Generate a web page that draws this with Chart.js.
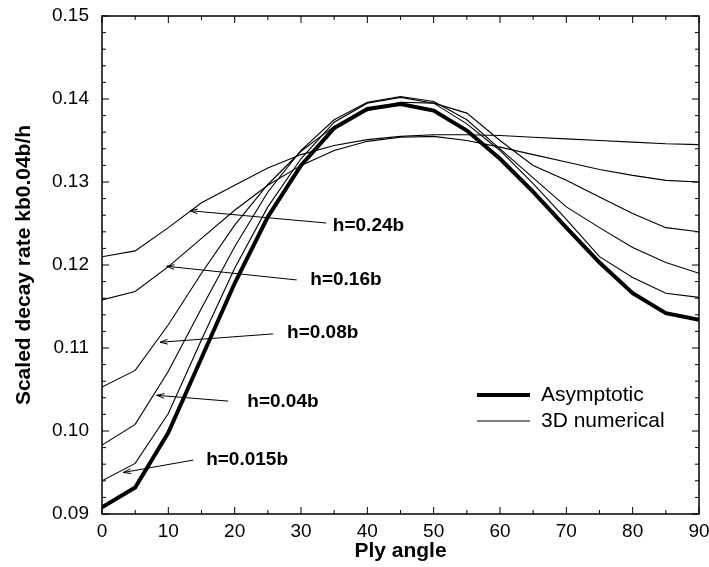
<!DOCTYPE html>
<html lang="en">
<head>
  <meta charset="UTF-8">
  <title>Scaled decay rate vs ply angle</title>
  <script src="https://cdn.jsdelivr.net/npm/chart.js"></script>
  <style>
    html, body { margin: 0; padding: 0; background: #fff; }
    #wrap { width: 709px; height: 567px; }
  </style>
</head>
<body>
<div id="wrap"><canvas id="chart" width="709" height="567"></canvas></div>
<script>
// ply angles (deg)
const angles = [0, 5, 10, 15, 20, 25, 30, 35, 40, 45, 50, 55, 60, 65, 70, 75, 80, 85, 90];

// asymptotic solution (thick line)
const asymptotic = [0.0908, 0.0932, 0.0998, 0.1088, 0.1178, 0.1258, 0.1320, 0.1365, 0.1388, 0.1394,
                    0.1386, 0.1362, 0.1328, 0.1288, 0.1245, 0.1203, 0.1166, 0.1142, 0.1134];

// 3D numerical results for different thicknesses
const h015 = [0.0940, 0.0961, 0.1021, 0.1110, 0.1196, 0.1270, 0.1328, 0.1372, 0.1395, 0.1402,
              0.1395, 0.1370, 0.1338, 0.1298, 0.1255, 0.1210, 0.1185, 0.1166, 0.1161];
const h04 = [0.0983, 0.1008, 0.1072, 0.1148, 0.1222, 0.1288, 0.1338, 0.1375, 0.1396, 0.1403,
             0.1397, 0.1375, 0.1340, 0.1305, 0.1270, 0.1245, 0.1221, 0.1203, 0.1190];
const h08 = [0.1053, 0.1073, 0.1128, 0.1190, 0.1248, 0.1297, 0.1337, 0.1367, 0.1386, 0.1396,
             0.1395, 0.1383, 0.1350, 0.1320, 0.1302, 0.1282, 0.1262, 0.1245, 0.1240];
const h16 = [0.1158, 0.1168, 0.1198, 0.1232, 0.1266, 0.1296, 0.1320, 0.1338, 0.1349, 0.1354,
             0.1355, 0.1350, 0.1342, 0.1333, 0.1324, 0.1315, 0.1308, 0.1302, 0.1300];
const h24 = [0.1210, 0.1217, 0.1245, 0.1275, 0.1296, 0.1317, 0.1333, 0.1344, 0.1351, 0.1355,
             0.1357, 0.1357, 0.1356, 0.1354, 0.1352, 0.1350, 0.1348, 0.1346, 0.1345];

// curve labels: text position and arrow tail -> tip (data units)
const noteText  = ["h=0.24b", "h=0.16b", "h=0.08b", "h=0.04b", "h=0.015b"];
const noteTextX = [34.8, 31.4, 27.9, 21.9, 15.7];
const noteTextY = [0.1247, 0.1182, 0.1118, 0.1035, 0.0965];
const tailX = [33.8, 29.35, 25.8, 19.0, 13.76];
const tailY = [0.12506, 0.1182, 0.1117, 0.1036, 0.0965];
const tipX  = [13.27, 9.76, 8.75, 8.25, 3.2];
const tipY  = [0.12654, 0.11985, 0.11069, 0.1043, 0.0950];

const legendLabels = ["Asymptotic", "3D numerical"];

function pts(ys) { return angles.map((a, i) => ({ x: a, y: ys[i] })); }

function thin(ys) {
  return { data: pts(ys), borderColor: "#000", borderWidth: 1.1, pointRadius: 0, tension: 0, fill: false };
}

const extras = {
  id: "extras",
  afterDatasetsDraw(chart) {
    const { ctx, chartArea: a, scales: { x, y } } = chart;
    ctx.save();
    ctx.strokeStyle = "#000";
    ctx.fillStyle = "#000";

    // frame
    ctx.lineWidth = 1.5;
    ctx.strokeRect(a.left, a.top, a.right - a.left, a.bottom - a.top);

    // inward ticks on all four sides
    ctx.lineWidth = 1;
    ctx.beginPath();
    for (let i = 0; i <= 18; i++) {
      const px = x.getPixelForValue(i * 5);
      const len = i % 2 === 0 ? 7 : 4;
      ctx.moveTo(px, a.bottom); ctx.lineTo(px, a.bottom - len);
      ctx.moveTo(px, a.top); ctx.lineTo(px, a.top + len);
    }
    for (let i = 0; i <= 30; i++) {
      const py = y.getPixelForValue(0.09 + i * 0.002);
      const len = i % 5 === 0 ? 7 : 4;
      ctx.moveTo(a.left, py); ctx.lineTo(a.left + len, py);
      ctx.moveTo(a.right, py); ctx.lineTo(a.right - len, py);
    }
    ctx.stroke();

    // arrows
    ctx.lineWidth = 1;
    for (let i = 0; i < noteText.length; i++) {
      const x0 = x.getPixelForValue(tailX[i]), y0 = y.getPixelForValue(tailY[i]);
      const x1 = x.getPixelForValue(tipX[i]), y1 = y.getPixelForValue(tipY[i]);
      const ang = Math.atan2(y1 - y0, x1 - x0);
      ctx.beginPath();
      ctx.moveTo(x0, y0); ctx.lineTo(x1, y1);
      ctx.moveTo(x1 - 8 * Math.cos(ang - 0.3), y1 - 8 * Math.sin(ang - 0.3));
      ctx.lineTo(x1, y1);
      ctx.lineTo(x1 - 8 * Math.cos(ang + 0.3), y1 - 8 * Math.sin(ang + 0.3));
      ctx.stroke();
    }

    // curve labels
    ctx.font = "bold 19px 'Liberation Sans', Arial, sans-serif";
    ctx.textAlign = "left";
    ctx.textBaseline = "middle";
    noteText.forEach((t, i) => {
      ctx.fillText(t, x.getPixelForValue(noteTextX[i]), y.getPixelForValue(noteTextY[i]));
    });

    // legend
    const lx0 = a.right - 222, lx1 = a.right - 169;
    const ly = [a.bottom - 119, a.bottom - 93];
    ctx.lineWidth = 4;
    ctx.beginPath(); ctx.moveTo(lx0, ly[0]); ctx.lineTo(lx1, ly[0]); ctx.stroke();
    ctx.lineWidth = 1;
    ctx.beginPath(); ctx.moveTo(lx0, ly[1]); ctx.lineTo(lx1, ly[1]); ctx.stroke();
    ctx.font = "21px 'Liberation Sans', Arial, sans-serif";
    legendLabels.forEach((t, i) => ctx.fillText(t, a.right - 158, ly[i]));

    ctx.restore();
  }
};

new Chart(document.getElementById("chart"), {
  type: "line",
  data: {
    datasets: [
      { data: pts(asymptotic), borderColor: "#000", borderWidth: 4, pointRadius: 0, tension: 0, fill: false },
      thin(h015), thin(h04), thin(h08), thin(h16), thin(h24)
    ]
  },
  options: {
    responsive: false,
    animation: false,
    layout: { padding: { top: 16, right: 10, left: 0, bottom: 0 } },
    plugins: { legend: { display: false }, tooltip: { enabled: false } },
    scales: {
      x: {
        type: "linear", min: 0, max: 90,
        grid: { display: false, drawTicks: false },
        border: { display: false },
        ticks: { stepSize: 10, padding: 6, color: "#000", font: { size: 19, family: "'Liberation Sans', Arial, sans-serif" }, maxRotation: 0 },
        title: { display: true, text: "Ply angle", color: "#000", padding: { top: 4, bottom: 3 },
                 font: { size: 21, weight: "bold", family: "'Liberation Sans', Arial, sans-serif" } },
        afterFit(s) { s.height = 53; s.paddingLeft = 0; s.paddingRight = 0; }
      },
      y: {
        min: 0.09, max: 0.15,
        grid: { display: false, drawTicks: false },
        border: { display: false },
        ticks: { stepSize: 0.01, padding: 13, color: "#000", callback: v => v.toFixed(2),
                 font: { size: 19, family: "'Liberation Sans', Arial, sans-serif" } },
        title: { display: true, text: "Scaled decay rate kb0.04b/h", color: "#000", padding: { top: 12, bottom: 0 },
                 font: { size: 21, weight: "bold", family: "'Liberation Sans', Arial, sans-serif" } },
        afterFit(s) { s.width = 102; s.paddingTop = 0; s.paddingBottom = 0; }
      }
    }
  },
  plugins: [extras]
});
</script>
</body>
</html>
